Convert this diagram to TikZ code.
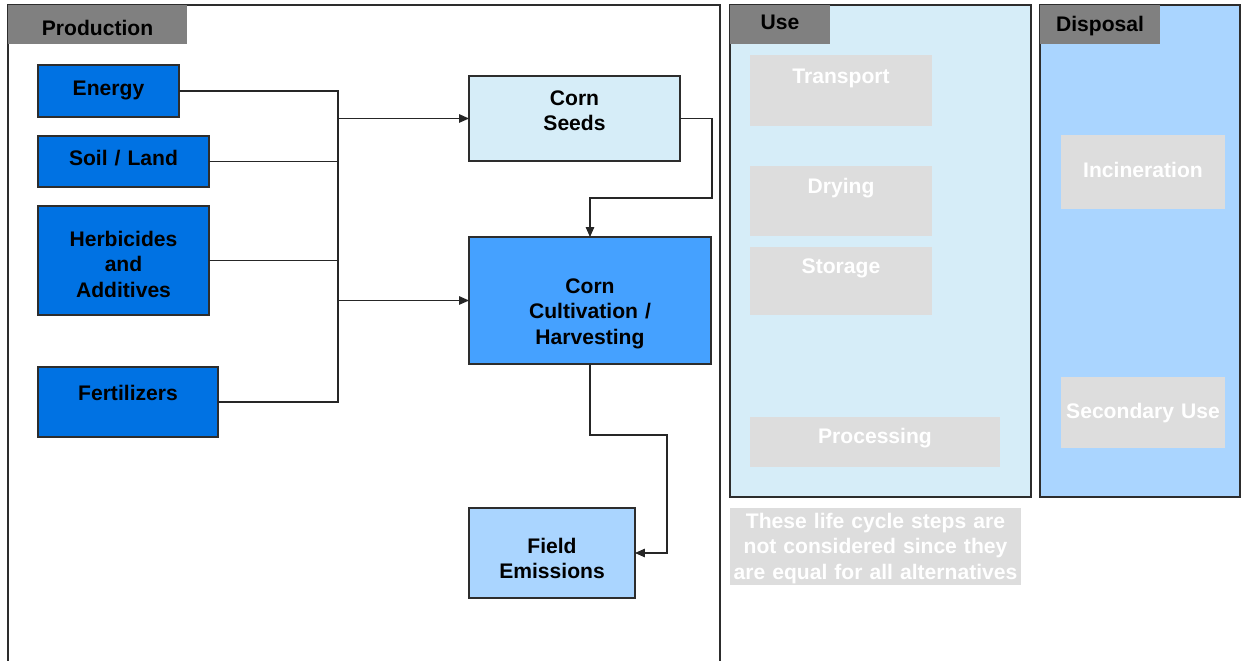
\documentclass[tikz,border=0pt]{standalone}
\usepackage{fontspec}
\setmainfont{Liberation Sans}
\usetikzlibrary{arrows.meta, positioning}

\newlength{\pxu}
\setlength{\pxu}{0.025cm}

\definecolor{deepblue}{RGB}{0,114,227}
\definecolor{midblue}{RGB}{69,161,255}
\definecolor{paleblue}{RGB}{170,213,255}
\definecolor{iceblue}{RGB}{214,237,248}
\definecolor{fadegray}{RGB}{221,221,221}
\definecolor{tabgray}{RGB}{128,128,128}
\definecolor{rimgray}{RGB}{45,45,45}

\begin{document}
\begin{tikzpicture}[
		x=\pxu, y=-\pxu,
		every node/.style={inner sep=0pt, outer sep=0pt, align=center, font=\fontsize{15}{18}\selectfont\bfseries},
		sized/.style n args={3}{text width=#1\pxu, text height=#2\pxu, text depth=#3\pxu},
		stepbox/.style={draw=rimgray, line width=0.9pt},
		fadebox/.style={fill=fadegray, text=white},
		tab/.style={fill=tabgray, text=black, anchor=north west},
		panel/.style={draw=rimgray, line width=1.2pt, anchor=north west},
		conn/.style={draw=black!85, line width=0.8pt},
		flow/.style={conn, -{Triangle[length=7pt, width=6pt]}}
		]
		\useasboundingbox (0,0) rectangle (1244,661);

		% frames of the three phases
		\draw[rimgray, line width=1.2pt] (8,661) -- (8,5) -- (720,5) -- (720,661);
		\node[panel, fill=iceblue, minimum width=301\pxu, minimum height=492\pxu] (usepanel) at (730,5) {};
		\node[panel, fill=paleblue, minimum width=200\pxu, minimum height=492\pxu] (disppanel) at (1040,5) {};
		\node[tab, sized={179}{30.5}{8.5}] (prodtab) at (8,5) {Production};
		\node[tab, sized={100}{24.5}{14.5}] (usetab) at (730,5) {Use};
		\node[tab, sized={120}{26.5}{12.5}] (disptab) at (1040,5) {Disposal};

		% production inputs
		\node[stepbox, fill=deepblue, sized={141}{30.5}{21.5}, anchor=north west] (energy) at (38,65) {Energy};
		\node[stepbox, fill=deepblue, sized={171}{29.5}{21.5}, below=19\pxu of energy.south west, anchor=north west] (soil) {Soil / Land};
		\node[stepbox, fill=deepblue, sized={171}{40.5}{68.5}, below=19\pxu of soil.south west, anchor=north west] (herb) {Herbicides\\and\\Additives};
		\node[stepbox, fill=deepblue, sized={180}{33.5}{36.5}, below=52\pxu of herb.south west, anchor=north west] (fert) {Fertilizers};

		% corn chain
		\node[stepbox, fill=iceblue, sized={211}{29.5}{55.5}, anchor=north west] (seeds) at (469,76) {Corn\\Seeds};
		\node[stepbox, fill=midblue, sized={242}{56.5}{70.5}, below=76\pxu of seeds.south west, anchor=north west] (cult) {Corn\\Cultivation /\\Harvesting};
		\node[stepbox, fill=paleblue, sized={166}{45.5}{44.5}, below=144\pxu of cult.south west, anchor=north west] (field) {Field\\Emissions};

		% steps left out
		\node[fadebox, sized={182}{28.5}{42.5}, anchor=north west] (transport) at (750,55) {Transport};
		\node[fadebox, sized={182}{27.5}{42.5}, below=40\pxu of transport.south west, anchor=north west] (drying) {Drying};
		\node[fadebox, sized={182}{26.5}{41.5}, below=11\pxu of drying.south west, anchor=north west] (storage) {Storage};
		\node[fadebox, sized={250}{26.5}{23.5}, anchor=north west] (processing) at (750,417) {Processing};
		\node[fadebox, sized={164}{42.5}{31.5}, anchor=north west] (incin) at (1061,135) {Incineration};
		\node[fadebox, sized={164}{41.5}{29.5}, below=168\pxu of incin.south west, anchor=north west] (secuse) {Secondary Use};
		\node[fadebox, sized={291}{20.5}{56.5}, anchor=north west] (note) at (730,508) {These life cycle steps are\\not considered since they\\are equal for all alternatives};

		% connectors
		\coordinate (bus) at (338,0);
		\coordinate (sbend) at (712,198);
		\coordinate (fbend) at (667,435);
		\draw[conn] (energy.east) -- (energy.east -| bus) -- (fert.east -| bus) -- (fert.east);
		\draw[conn] (soil.east) -- (soil.east -| bus);
		\draw[conn] (herb.east) -- (herb.east -| bus);
		\draw[flow] (seeds.west -| bus) -- (seeds.west);
		\draw[flow] (cult.west -| bus) -- (cult.west);
		\draw[flow] (seeds.east) -| (sbend) -| (cult.north);
		\draw[flow] (cult.south) |- (fbend) |- (field.east);
	\end{tikzpicture}
\end{document}
